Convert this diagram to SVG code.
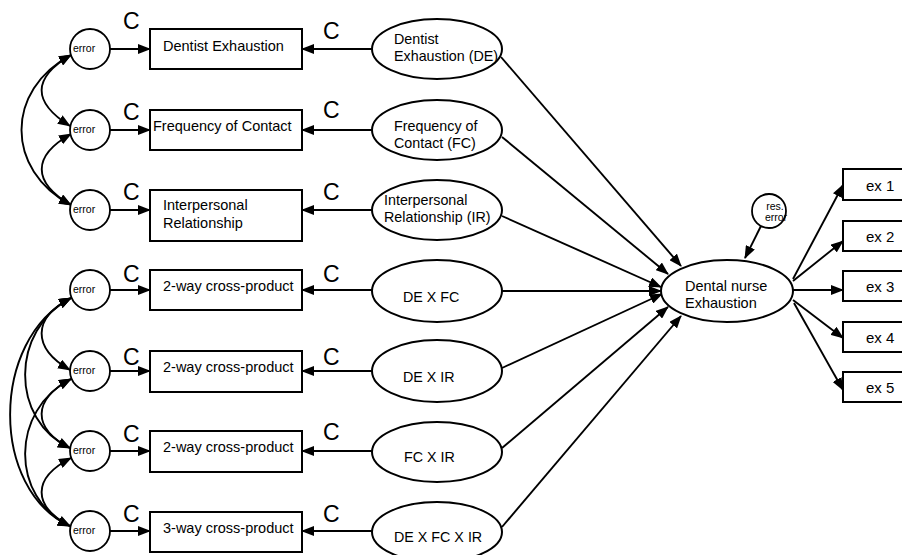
<svg xmlns="http://www.w3.org/2000/svg" width="902" height="555" viewBox="0 0 902 555">
<style>
  text { font-family: "Liberation Sans", Arial, sans-serif; fill: #000; }
  .box { fill: #fff; stroke: #000; stroke-width: 2; }
  .ell { fill: #fff; stroke: #000; stroke-width: 2; }
  .cir { fill: #fff; stroke: #000; stroke-width: 1.8; }
  .lbl { font-size: 14.5px; }
  .elbl { font-size: 14.3px; }
  .err { font-size: 10.5px; }
  .cc { font-size: 23px; }
  .ex { font-size: 15px; }
  .con { fill: none; stroke: #000; stroke-width: 1.9; marker-end: url(#ah); }
  .bi { fill: none; stroke: #000; stroke-width: 1.9; marker-start: url(#ah); marker-end: url(#ah); }
</style>
<defs>
  <marker id="ah" markerWidth="13" markerHeight="10" refX="12" refY="5" orient="auto-start-reverse" markerUnits="userSpaceOnUse" viewBox="0 0 13 10">
    <path d="M0,0 L13,5 L0,10 z" fill="#000"/>
  </marker>
</defs>
<rect width="902" height="555" fill="#fff"/>

<g id="connectors">
  <!-- error -> indicator -->
  <path class="con" d="M110 49 H150"/>
  <path class="con" d="M110 130 H150"/>
  <path class="con" d="M110 210 H150"/>
  <path class="con" d="M110 290 H150"/>
  <path class="con" d="M110 371 H150"/>
  <path class="con" d="M110 451 H150"/>
  <path class="con" d="M110 531 H150"/>
  <!-- latent -> indicator -->
  <path class="con" d="M372 49 H302"/>
  <path class="con" d="M372 130 H302"/>
  <path class="con" d="M372 210 H302"/>
  <path class="con" d="M372 290 H302"/>
  <path class="con" d="M372 371 H302"/>
  <path class="con" d="M372 451 H302"/>
  <path class="con" d="M372 531 H302"/>
  <!-- latent -> dental nurse exhaustion -->
  <path class="con" d="M501 57 L681 266"/>
  <path class="con" d="M502 137 L668 274"/>
  <path class="con" d="M502 216 L661 287"/>
  <path class="con" d="M502 291 L661 291"/>
  <path class="con" d="M502 368 L662 294"/>
  <path class="con" d="M502 448 L668 307"/>
  <path class="con" d="M502 527 L681 316"/>
  <!-- residual error -->
  <path class="con" d="M761 226 L745 258"/>
  <!-- outcome -> items -->
  <path class="con" d="M793 279 L843 185"/>
  <path class="con" d="M793 281 L843 241"/>
  <path class="con" d="M793 290 L843 290"/>
  <path class="con" d="M793 300 L843 338"/>
  <path class="con" d="M794 303 L843 390"/>
  <!-- covariances, upper group -->
  <path class="bi" d="M71 55 C32 78, 32 102, 70 126"/>
  <path class="bi" d="M71 134 C32 156, 32 182, 71 205"/>
  <path class="bi" d="M71 55 C5 90, 5 170, 71 205"/>
  <!-- covariances, lower group -->
  <path class="bi" d="M71 298 C32 318, 32 348, 70 370"/>
  <path class="bi" d="M71 379 C32 400, 32 428, 70 448"/>
  <path class="bi" d="M71 458 C32 478, 32 506, 70 526"/>
  <path class="bi" d="M71 298 C10 330, 10 420, 70 448"/>
  <path class="bi" d="M71 379 C10 410, 10 498, 70 526"/>
  <path class="bi" d="M71 298 C-10 340, -10 490, 70 526"/>
</g>

<!-- error circles -->
<g id="err1"><circle class="cir" cx="90" cy="49" r="20"/><text class="err" x="73" y="52">error</text></g>
<g id="err2"><circle class="cir" cx="90" cy="130" r="20"/><text class="err" x="73" y="133">error</text></g>
<g id="err3"><circle class="cir" cx="90" cy="210" r="20"/><text class="err" x="73" y="213">error</text></g>
<g id="err4"><circle class="cir" cx="90" cy="290" r="20"/><text class="err" x="73" y="293">error</text></g>
<g id="err5"><circle class="cir" cx="90" cy="371" r="20"/><text class="err" x="73" y="374">error</text></g>
<g id="err6"><circle class="cir" cx="90" cy="451" r="20"/><text class="err" x="73" y="454">error</text></g>
<g id="err7"><circle class="cir" cx="90" cy="531" r="20"/><text class="err" x="73" y="534">error</text></g>

<!-- C labels -->
<g id="c-labels">
  <text class="cc" x="123" y="29">C</text><text class="cc" x="323" y="39">C</text>
  <text class="cc" x="123" y="120">C</text><text class="cc" x="323" y="118">C</text>
  <text class="cc" x="123" y="200">C</text><text class="cc" x="323" y="200">C</text>
  <text class="cc" x="123" y="282">C</text><text class="cc" x="323" y="282">C</text>
  <text class="cc" x="123" y="365">C</text><text class="cc" x="323" y="365">C</text>
  <text class="cc" x="123" y="442">C</text><text class="cc" x="323" y="440">C</text>
  <text class="cc" x="123" y="522">C</text><text class="cc" x="323" y="522">C</text>
</g>

<!-- indicator boxes -->
<g id="ind-de"><rect class="box" x="150" y="29" width="152" height="40"/><text class="lbl" x="163" y="51">Dentist Exhaustion</text></g>
<g id="ind-fc"><rect class="box" x="150" y="110" width="152" height="40"/><text class="lbl" x="153" y="131">Frequency of Contact</text></g>
<g id="ind-ir"><rect class="box" x="150" y="190" width="152" height="51"/><text class="lbl" x="163" y="210">Interpersonal</text><text class="lbl" x="163" y="228">Relationship</text></g>
<g id="ind-defc"><rect class="box" x="150" y="270" width="152" height="40"/><text class="lbl" x="163" y="291">2-way cross-product</text></g>
<g id="ind-deir"><rect class="box" x="150" y="351" width="152" height="41"/><text class="lbl" x="163" y="372">2-way cross-product</text></g>
<g id="ind-fcir"><rect class="box" x="150" y="431" width="152" height="41"/><text class="lbl" x="163" y="452">2-way cross-product</text></g>
<g id="ind-defcir"><rect class="box" x="150" y="512" width="152" height="40"/><text class="lbl" x="163" y="533">3-way cross-product</text></g>

<!-- latent ellipses -->
<g id="lat-de"><ellipse class="ell" cx="437" cy="49" rx="65" ry="30"/><text class="elbl" x="394" y="44">Dentist</text><text class="elbl" x="394" y="61">Exhaustion (DE)</text></g>
<g id="lat-fc"><ellipse class="ell" cx="437" cy="130" rx="65" ry="30"/><text class="elbl" x="394" y="131">Frequency of</text><text class="elbl" x="394" y="148">Contact (FC)</text></g>
<g id="lat-ir"><ellipse class="ell" cx="437" cy="210" rx="65" ry="30"/><text class="elbl" x="384" y="205">Interpersonal</text><text class="elbl" x="384" y="222">Relationship (IR)</text></g>
<g id="lat-defc"><ellipse class="ell" cx="437" cy="291" rx="65" ry="31"/><text class="elbl" x="403" y="302">DE X FC</text></g>
<g id="lat-deir"><ellipse class="ell" cx="437" cy="371" rx="65" ry="31"/><text class="elbl" x="403" y="382">DE X IR</text></g>
<g id="lat-fcir"><ellipse class="ell" cx="437" cy="452" rx="65" ry="30"/><text class="elbl" x="404" y="462">FC X IR</text></g>
<g id="lat-defcir"><ellipse class="ell" cx="437" cy="532" rx="65" ry="30"/><text class="elbl" x="394" y="542">DE X FC X IR</text></g>

<!-- outcome -->
<g id="dne"><ellipse class="ell" cx="727" cy="291" rx="66" ry="31"/><text class="lbl" x="685" y="291">Dental nurse</text><text class="lbl" x="685" y="308">Exhaustion</text></g>
<g id="res-error"><circle class="cir" cx="769" cy="211" r="17"/><text class="err" x="775" y="210" text-anchor="middle">res.</text><text class="err" x="776" y="221" text-anchor="middle">error</text></g>

<!-- items -->
<g id="ex1"><rect class="box" x="843" y="169" width="62" height="31"/><text class="ex" x="866" y="191">ex 1</text></g>
<g id="ex2"><rect class="box" x="843" y="221" width="62" height="30"/><text class="ex" x="866" y="242">ex 2</text></g>
<g id="ex3"><rect class="box" x="843" y="271" width="62" height="30"/><text class="ex" x="866" y="292">ex 3</text></g>
<g id="ex4"><rect class="box" x="843" y="322" width="62" height="30"/><text class="ex" x="866" y="343">ex 4</text></g>
<g id="ex5"><rect class="box" x="843" y="372" width="62" height="30"/><text class="ex" x="866" y="393">ex 5</text></g>
</svg>
